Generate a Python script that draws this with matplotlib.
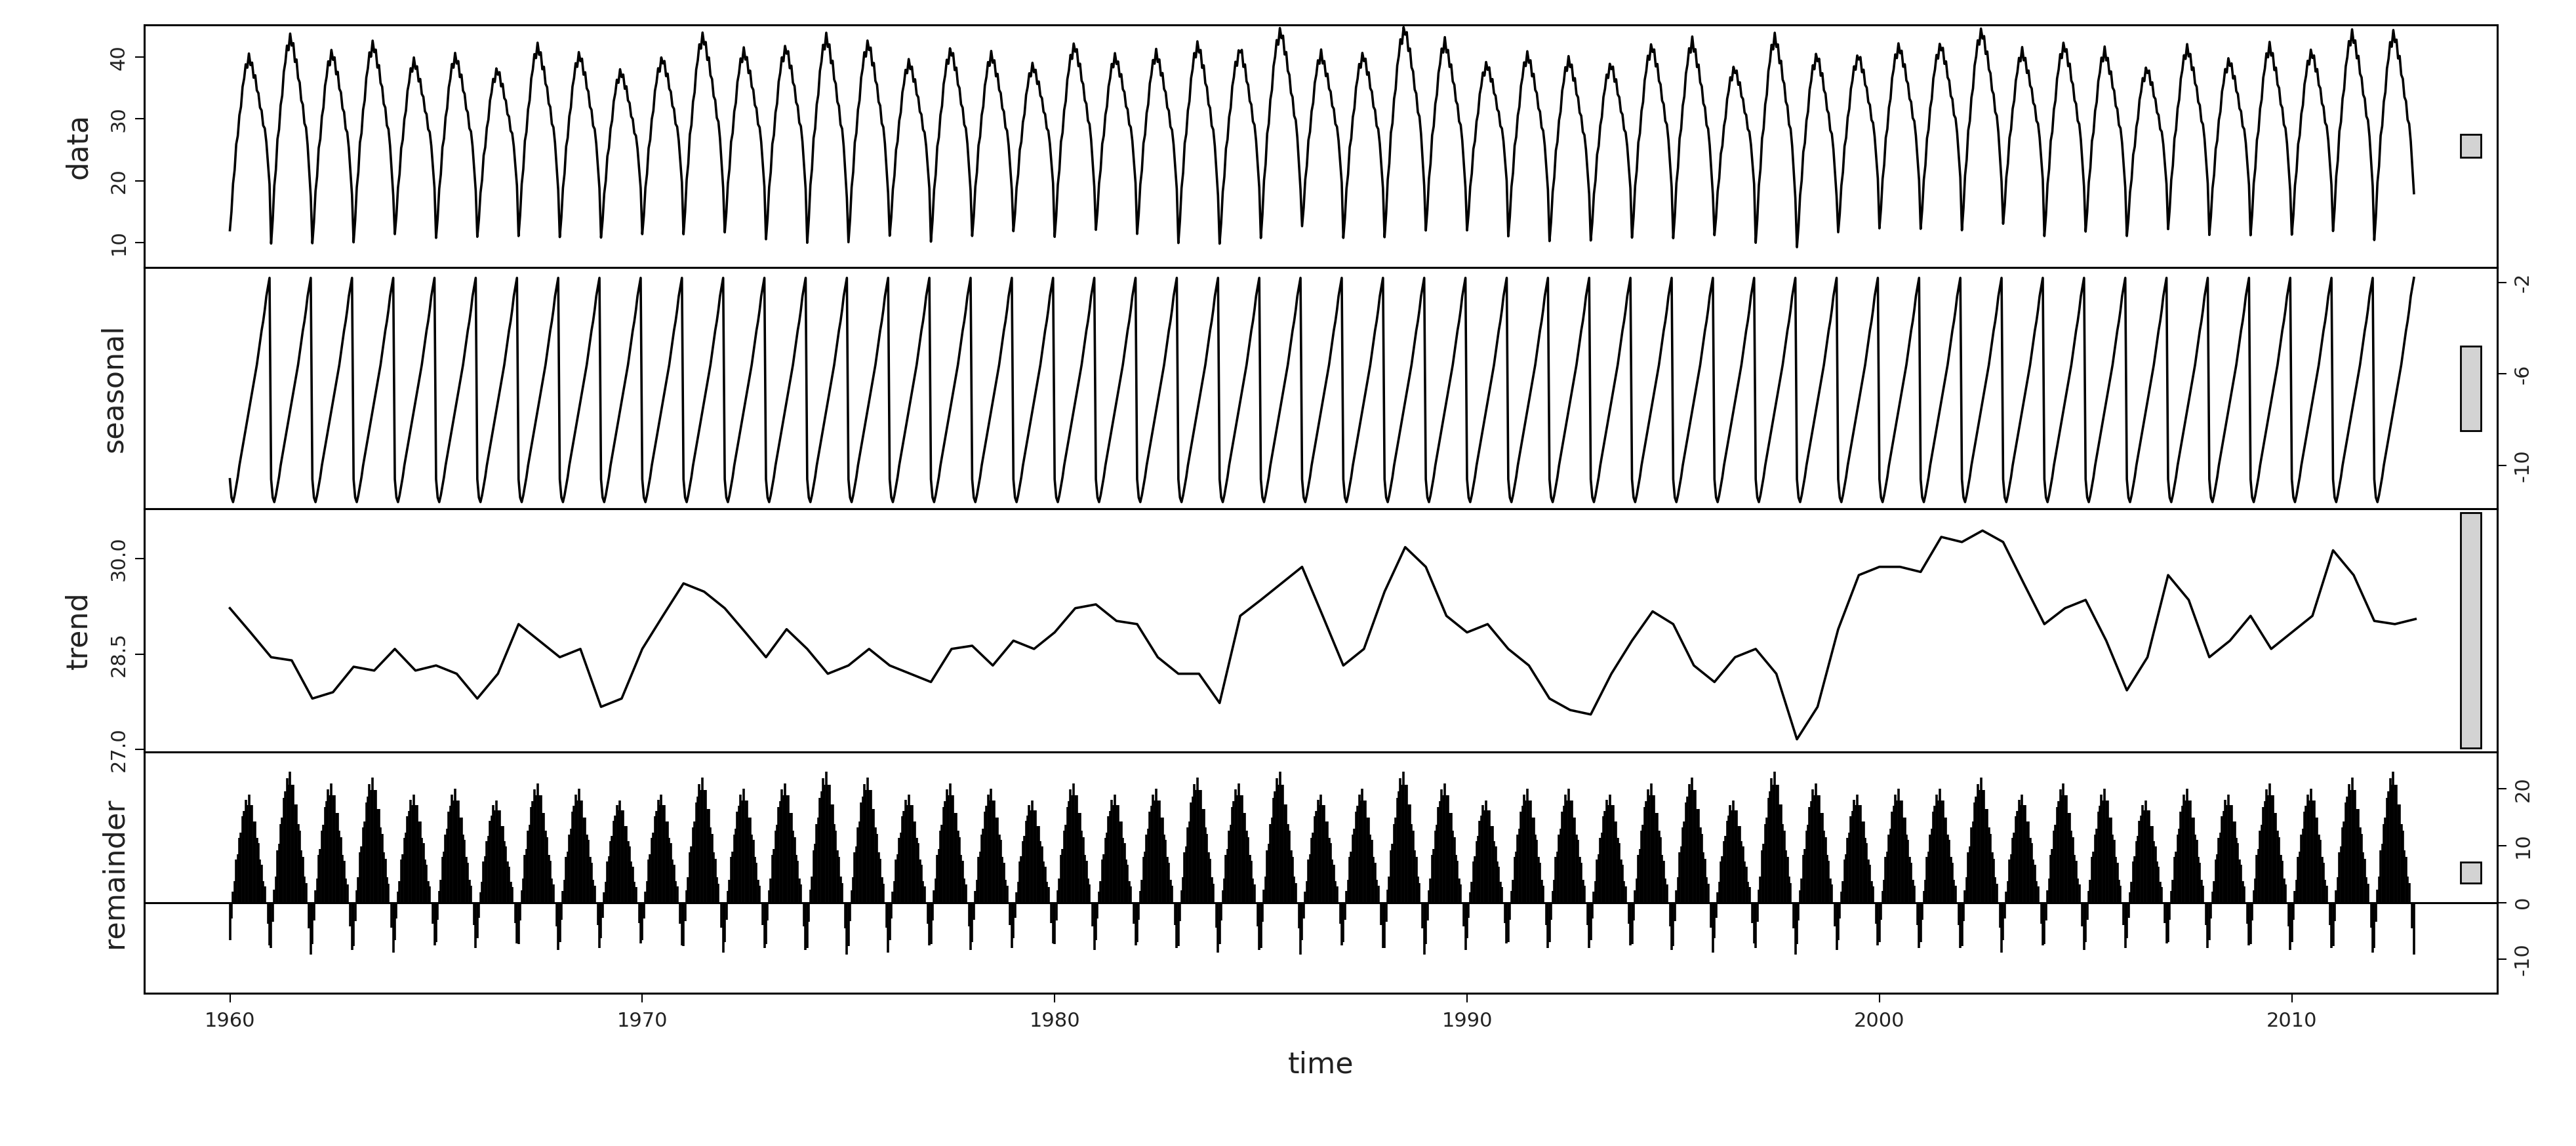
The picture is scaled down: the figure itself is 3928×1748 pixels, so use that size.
import matplotlib
matplotlib.use("Agg")
import matplotlib.pyplot as plt
import matplotlib.transforms as mtransforms
import numpy as np

# ── data ───────────────────────────────────────────────────────────────────────
START_YEAR = 1960
N_YEARS = 53
STEPS_PER_YEAR = 26          # biweekly samples

# seasonal component, one year (26 samples)
seasonal_profile = [-10.6, -11.4, -11.6, -11.3, -10.9, -10.5, -10.0, -9.6, -9.2, -8.8,
                    -8.4, -8.0, -7.6, -7.2, -6.8, -6.4, -6.0, -5.6, -5.1, -4.6,
                    -4.1, -3.7, -3.2, -2.6, -2.2, -1.8]

# remainder shape within one year and its per-year size
remainder_profile = [-7, -3, 2, 4, 8, 9, 12, 13, 16, 17, 19, 18, 20, 18, 18, 15,
                     15, 12, 11, 8, 7, 4, 3, 0, -4, -8]
remainder_scale = [0.95, 1.15, 1.05, 1.1, 0.95, 1.0, 0.9, 1.05, 1.0, 0.9,
                   0.95, 1.1, 1.0, 1.05, 1.15, 1.1, 0.95, 1.05, 1.0, 0.9,
                   1.05, 0.95, 1.0, 1.1, 1.05, 1.15, 0.95, 1.0, 1.15, 1.05,
                   0.9, 1.0, 1.0, 0.95, 1.05, 1.1, 0.9, 1.15, 1.05, 0.95,
                   1.0, 1.0, 1.1, 0.95, 1.05, 1.0, 0.9, 1.0, 0.95, 1.05,
                   1.0, 1.1, 1.15]

# trend, one value per half year from 1960.0 to 2013.0
trend_values = [29.22, 28.84, 28.45, 28.40, 27.80, 27.90, 28.30, 28.24, 28.58, 28.24,
                28.32, 28.19, 27.80, 28.19, 28.97, 28.71, 28.45, 28.58, 27.67, 27.80,
                28.58, 29.10, 29.61, 29.48, 29.22, 28.84, 28.45, 28.89, 28.58, 28.19,
                28.32, 28.58, 28.32, 28.19, 28.06, 28.58, 28.63, 28.32, 28.71, 28.58,
                28.84, 29.22, 29.28, 29.02, 28.97, 28.45, 28.19, 28.19, 27.73, 29.10,
                29.35, 29.61, 29.87, 29.10, 28.32, 28.58, 29.48, 30.18, 29.87, 29.10,
                28.84, 28.97, 28.58, 28.32, 27.80, 27.62, 27.55, 28.19, 28.71, 29.17,
                28.97, 28.32, 28.06, 28.45, 28.58, 28.19, 27.16, 27.67, 28.89, 29.74,
                29.87, 29.87, 29.79, 30.34, 30.26, 30.44, 30.26, 29.61, 28.97, 29.22,
                29.35, 28.71, 27.93, 28.45, 29.74, 29.35, 28.45, 28.71, 29.10, 28.58,
                28.84, 29.10, 30.13, 29.74, 29.02, 28.97, 29.05]

# axis ticks
data_ticks = [10, 20, 30, 40]
seasonal_ticks = [-10, -6, -2]
trend_ticks = [27.0, 28.5, 30.0]
remainder_ticks = [-10, 0, 10, 20]
year_ticks = [1960, 1970, 1980, 1990, 2000, 2010]

# ── assemble components ────────────────────────────────────────────────────────
n = N_YEARS * STEPS_PER_YEAR
t = START_YEAR + np.arange(n) / STEPS_PER_YEAR
seasonal = np.tile(seasonal_profile, N_YEARS)
remainder = np.tile(remainder_profile, N_YEARS) * np.repeat(remainder_scale, STEPS_PER_YEAR)
trend_t = START_YEAR + np.arange(len(trend_values)) * 0.5
trend_hold = np.repeat(trend_values[:-1], STEPS_PER_YEAR // 2)[:n]
data = trend_hold + seasonal + remainder

# ── figure ─────────────────────────────────────────────────────────────────────
fig = plt.figure(figsize=(39.28, 17.48), dpi=100)
left, right = 0.0561, 0.9694
edges = [0.9785, 0.7665, 0.5559, 0.3438, 0.1332]
axes = []
for i in range(4):
    ax = fig.add_axes([left, edges[i + 1], right - left, edges[i] - edges[i + 1]])
    axes.append(ax)

LW = 2.6
XLIM = (1957.93, 2014.98)
ylims = [(5.9, 45.3), (-11.9, -1.35), (26.96, 30.78), (-16, 26.5)]
labels = ["data", "seasonal", "trend", "remainder"]
ticks = [data_ticks, seasonal_ticks, trend_ticks, remainder_ticks]
tick_fmt = ["{:g}", "{:g}", "{:.1f}", "{:g}"]

axes[0].plot(t, data, color="black", lw=LW)
axes[1].plot(t, seasonal, color="black", lw=LW)
axes[2].plot(trend_t, trend_values, color="black", lw=LW)
axes[3].vlines(t, 0, remainder, color="black", lw=LW)
axes[3].axhline(0, color="black", lw=2.2)

bar_span = ylims[2][1] - ylims[2][0]
for i, ax in enumerate(axes):
    ax.set_xlim(*XLIM)
    ax.set_ylim(*ylims[i])
    ax.set_yticks(ticks[i])
    ax.set_yticklabels([tick_fmt[i].format(v) for v in ticks[i]],
                       rotation=90, va="center", fontsize=22, color="#222222")
    if i % 2 == 1:
        ax.yaxis.tick_right()
    ax.tick_params(axis="y", direction="out", length=10, width=1.5, pad=8)
    ax.set_ylabel(labels[i], fontsize=32, color="#222222", labelpad=18)
    ax.yaxis.set_label_position("left")
    for s in ax.spines.values():
        s.set_linewidth(2.2)
    # range bar on the right
    mid = sum(ylims[i]) / 2
    trans = mtransforms.blended_transform_factory(ax.transAxes, ax.transData)
    ax.add_patch(plt.Rectangle((0.9845, mid - bar_span / 2 * 0.97), 0.0085, bar_span * 0.97,
                               transform=trans, facecolor="#d3d3d3", edgecolor="black",
                               lw=2.0, zorder=5))
    if i < 3:
        ax.set_xticks([])

axes[3].set_xticks(year_ticks)
axes[3].set_xticklabels([str(y) for y in year_ticks], fontsize=22, color="#222222")
axes[3].tick_params(axis="x", direction="out", length=10, width=1.5, pad=10)
axes[3].set_xlabel("time", fontsize=32, color="#222222", labelpad=22)

fig.savefig("out.png", dpi=100)
